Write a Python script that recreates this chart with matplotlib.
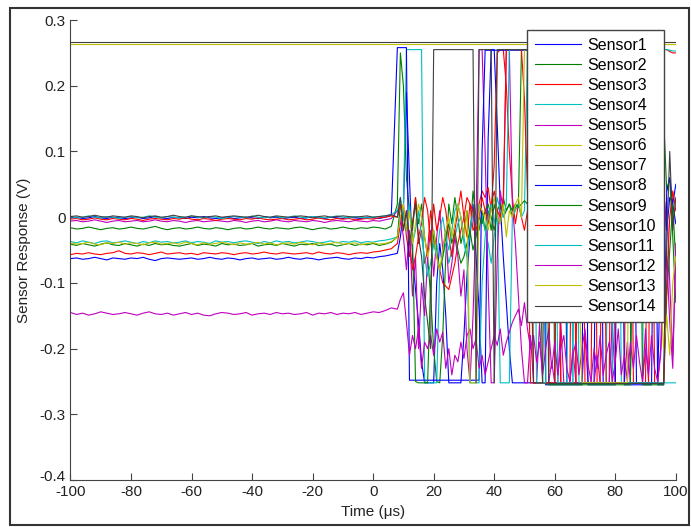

# importing the libraries
import numpy as np
import matplotlib.pyplot as plt
import matplotlib.transforms as mtransforms
from matplotlib.patches import Rectangle


# time axis (us): coarse before the trigger, 1 us after it
t_pre = np.arange(-100, 8, 2)
t_post = np.arange(8, 101)
t_ends = [-100, 100]

labels = ['Sensor%d' % i for i in range(1, 15)]

# sensor readings in mV
s1_pre = [-63, -62, -64, -63, -61, -63, -65, -62, -63,
          -64, -62, -63, -61, -64, -66, -63, -62, -63,
          -64, -63, -62, -64, -63, -61, -63, -64, -62,
          -63, -65, -63, -62, -64, -63, -62, -64, -63,
          -61, -63, -64, -62, -63, -65, -63, -62, -61,
          -63, -64, -62, -63, -61, -62, -60, -59, -57]
s1_post = [-55, -30, 10, 190, 60, -60, -110, -160, -220, -252,
           -252, -252, -252, -100, -40, -80, -150, -252, -252, -252,
           -252, -252, -180, -90, -30, 20, -60, -140, -252, -252,
           120, 255, 255, 140, 20, -60, -130, -200, -252, -252,
           -252, -252, -252, -252, -252, -252, -252, -252, -252, -252,
           -252, -252, -252, 255, 255, 255, -252, -252, -252, -252,
           -252, -252, -252, -252, -252, -252, 255, 255, -252, -252,
           -252, -252, -252, -252, -252, -252, -252, -252, 255, -252,
           -252, -252, -252, -252, -252, -252, -252, -60, 40, -20,
           30, 20, -10]

s2_pre = [-16, -18, -17, -15, -17, -19, -17, -16, -18,
          -17, -15, -17, -18, -16, -14, -17, -19, -17,
          -16, -18, -17, -15, -17, -18, -16, -17, -19,
          -17, -16, -18, -17, -15, -17, -18, -16, -17,
          -18, -16, -15, -17, -19, -17, -16, -18, -17,
          -15, -17, -18, -16, -17, -15, -16, -18, -14]
s2_post = [20, 250, 200, 60, 10, -20, 30, -10, 20, -30,
           -60, -120, -200, -250, -252, -180, -60, 20, -10, 30,
           0, -40, -20, 10, -30, 40, 0, -20, 10, -20,
           10, -20, 20, 0, -10, 30, 10, 20, 0, 15,
           20, 255, 255, 255, 255, 255, 255, 255, 255, 255,
           255, 255, -252, -252, -252, -252, -252, -252, -252, -252,
           -252, -252, -252, -252, -252, -252, -252, -252, -252, -252,
           -252, -252, -252, -252, -252, -252, -252, -252, 255, 255,
           255, 255, 255, 255, 255, 255, 255, 255, 150, 40,
           60, -30, -130]

s3_pre = [-57, -55, -56, -54, -56, -57, -55, -54, -51,
          -55, -56, -54, -55, -57, -55, -53, -56, -55,
          -54, -56, -55, -57, -54, -55, -56, -54, -55,
          -57, -55, -54, -56, -55, -53, -55, -56, -54,
          -55, -56, -55, -54, -56, -53, -55, -56, -54,
          -55, -57, -55, -54, -55, -53, -52, -50, -48]
s3_post = [-40, -10, 20, -30, -60, -10, 30, -40, -20, -70,
           -50, 10, -30, -60, -80, -100, -105, -110, -90, -70,
           -40, -20, 0, 30, 20, -20, -10, 20, 40, 30,
           45, 10, 80, 250, 255, 255, 200, 100, 30, -10,
           20, 0, -20, 10, -252, -252, -252, -252, -252, -252,
           -252, 80, 255, 255, -252, -252, -252, -252, 255, -252,
           -252, -252, -252, -252, -252, 255, -252, -252, -252, -252,
           -252, 255, -252, -252, -252, -252, 255, 255, -252, -252,
           -252, -252, -252, 255, 255, 255, 255, 255, 255, 255,
           252, 250, 250]

s4_pre = [-37, -39, -36, -38, -40, -37, -36, -39, -38,
          -36, -38, -40, -37, -39, -36, -38, -37, -39,
          -38, -36, -39, -37, -38, -40, -36, -38, -37,
          -39, -37, -36, -38, -40, -37, -39, -36, -38,
          -37, -39, -38, -36, -37, -39, -38, -36, -39,
          -37, -38, -36, -39, -37, -38, -36, -35, -33]
s4_post = [-30, 0, 10, 255, 255, 255, 255, 255, 255, -250,
           -252, -252, -252, -252, -80, -60, -40, -70, -50, -30,
           -10, 0, -30, -60, -20, 10, -10, 20, 0, -20,
           -40, -70, -30, 10, -252, -252, -252, -252, 0, 10,
           20, 0, 10, 255, 255, 255, 255, 255, 255, -252,
           -252, -252, -252, -252, -252, -252, -252, 255, -252, -252,
           -252, -252, -252, -252, -252, -252, -252, -252, -252, -252,
           255, -252, -252, -252, -252, -252, -252, -252, -252, -252,
           -252, -252, 255, 255, 255, 255, 255, 255, 255, 255,
           254, 253, 253]

s5_pre = [-6, -5, -7, -6, -4, -6, -8, -6, -5,
          -7, -6, -5, -7, -6, -4, -6, -7, -5,
          -6, -8, -6, -5, -7, -6, -5, -6, -7,
          -5, -6, -8, -6, -5, -7, -6, -4, -6,
          -7, -5, -6, -7, -5, -6, -8, -6, -5,
          -6, -7, -5, -6, -7, -5, -6, -4, -2]
s5_post = [10, 0, -30, -80, -20, -120, -60, -200, -100, -150,
           -60, -20, -90, -30, 10, -50, -20, -100, -70, -30,
           -60, -120, -80, -200, -252, -150, 0, 255, 255, 100,
           -100, -252, -252, -60, 40, 10, 255, 255, 20, -40,
           -120, -200, -252, -252, -180, -252, -252, -160, -252, -252,
           -252, -220, -252, -252, -160, -252, -252, -252, -200, -252,
           -252, -252, -180, -252, -252, -252, -210, -252, -252, -252,
           -252, -160, -252, -252, -252, -252, -190, -252, -252, -252,
           -252, -252, -170, -252, -252, -252, -252, -200, -40, 30,
           -100, -210, -60]

# sensors 6 and 7 sit on the upper rail the whole time
s6 = [263, 263]
s7 = [267, 267]

s8_pre = [-1, 0, -2, -1, 1, -1, -2, 0, -1,
          -2, -1, 0, -2, -1, 1, -1, -2, 0,
          -1, -2, 0, -1, 1, -1, -2, -1, 0,
          -2, -1, 0, -1, -2, 1, -1, 0, -2,
          -1, 0, -2, -1, 1, -1, -2, 0, -1,
          -2, 0, -1, -2, 0, -1, -2, 0, 3]
s8_post = [258, 258, 258, 258, -248, -248, -248, -248, -248, -248,
           -248, -248, -248, -248, -248, -248, -248, -248, -248, -248,
           -248, -248, -248, -248, -248, -248, -248, -248, 100, 254,
           254, 254, 254, 254, 254, 254, 254, 254, 254, 254,
           254, 254, 254, 254, 254, 254, 254, 254, 254, -255,
           -255, -255, -255, -255, -255, -255, -255, -255, -255, -255,
           -255, -255, 254, -255, -255, -255, -255, -255, -255, -255,
           -255, -255, -255, 254, 254, -255, -255, -255, -255, -255,
           -255, -255, -255, -255, -255, 254, -255, -255, -255, 40,
           60, 20, 50]

s9_pre = [-41, -43, -40, -42, -44, -41, -39, -42, -43,
          -40, -42, -44, -41, -43, -40, -42, -41, -43,
          -44, -42, -40, -43, -41, -42, -44, -40, -42,
          -41, -43, -42, -40, -44, -42, -41, -43, -40,
          -42, -44, -41, -42, -40, -43, -42, -41, -44,
          -42, -40, -43, -41, -42, -40, -43, -41, -38]
s9_post = [-30, 20, 0, -20, 10, -30, -250, -252, -252, -252,
           -252, -100, -20, -50, -80, -60, -30, -10, -40, -20,
           -50, -70, -60, -40, -20, -50, -30, 0, -10, 10,
           20, 0, -20, 10, 20, 0, 10, 20, 10, 20,
           15, 20, 25, 20, 10, 15, 20, 10, -252, -252,
           -255, -255, -255, -255, -255, -255, -255, -255, -255, -255,
           -255, -255, -255, -255, -255, -255, -255, -255, -255, -255,
           -255, -255, -255, -255, -255, -255, -255, -255, 255, 255,
           255, -255, -255, -255, -255, -255, -255, -255, -255, -120,
           -50, 20, -70]

s10_pre = [-3, -2, -4, -3, -1, -3, -4, -2, -3,
           -4, -2, -3, -5, -3, -2, -3, -4, -2,
           -3, -1, -3, -4, -2, -3, -5, -3, -2,
           -3, -4, -2, -3, -1, -3, -4, -3, -2,
           -4, -3, -2, -4, -3, -1, -3, -4, -2,
           -3, -2, -4, -3, -2, -3, -1, 0, 2]
s10_post = [0, 20, -20, 10, -40, -80, -60, -30, -10, 30,
            10, -40, 20, -20, 0, 30, 10, -30, -60, -20,
            10, 40, 0, -30, 20, 10, -20, 0, 30, 10,
            -10, 20, 40, 10, 0, 30, 255, 255, 255, 255,
            255, 255, 180, 40, -30, -252, -252, -252, -252, -252,
            -252, -252, -252, 255, -252, -252, -252, -252, -252, -252,
            255, 255, -252, -252, -252, -252, -252, -252, 255, -252,
            -252, -252, -252, -252, -252, -252, -252, -252, -252, -252,
            -252, -252, -252, -252, 255, -252, -252, -252, -252, -100,
            0, 40, 10]

s11_pre = [1, -1, 0, 2, 0, -1, 1, 0, -2,
           0, 1, -1, 0, 2, 0, -1, 1, 0,
           -1, 0, 2, 0, -1, 1, 0, -2, 0,
           1, 0, -1, 2, 0, -1, 0, 1, -1,
           0, 2, 0, -1, 1, 0, -1, 0, 2,
           0, -1, 1, 0, -1, 0, 1, 2, 4]
s11_post = [10, 30, 0, -20, 20, -40, -20, 10, -30, -60,
            -90, -70, -40, -60, -20, 0, -30, -50, -20, 10,
            20, 0, -40, -60, -252, -252, -252, -252, -100, -30,
            0, 20, -10, 30, 10, 0, 20, 255, 255, 255,
            255, 255, 255, 255, 255, 255, -252, -252, -252, -252,
            255, 255, 255, -252, -252, -252, -252, -252, -252, 255,
            -252, -252, -252, -252, -252, -252, -252, -252, -252, -252,
            -252, -252, 255, 255, -252, -252, -252, -252, -252, -252,
            -252, -252, -252, -252, -252, -252, -252, -252, -252, -252,
            -252, -252, -252]

s12_pre = [-145, -148, -146, -149, -147, -144, -146, -148, -147,
           -145, -147, -149, -146, -144, -147, -148, -146, -149,
           -147, -145, -148, -146, -149, -150, -147, -145, -146,
           -148, -147, -145, -149, -147, -146, -148, -145, -147,
           -146, -148, -147, -145, -149, -146, -147, -145, -148,
           -146, -147, -145, -148, -146, -144, -145, -142, -138]
s12_post = [-140, -125, -115, -160, -210, -180, -200, -170, -230, -190,
            -200, -180, -210, -170, -190, -175, -230, -200, -240, -210,
            -220, -190, -215, -180, -170, -200, -185, -230, -210, -240,
            -220, -200, -180, -195, -170, -210, -190, -175, -160, -150,
            -140, -165, -130, -170, -200, -180, -220, -190, -240, -200,
            -170, -230, -190, -240, -200, -180, -230, -250, -210, -190,
            -240, -200, -170, -225, -250, -200, -230, -180, -240, -210,
            -190, -250, -220, -170, -240, -210, -250, -190, -230, -180,
            -220, -250, -200, -240, -180, -230, -250, -210, -120, -60,
            -160, -230, -40]

s13_pre = [-39, -41, -40, -38, -41, -42, -39, -40, -38,
           -41, -39, -40, -42, -39, -38, -41, -40, -39,
           -41, -38, -40, -42, -39, -41, -40, -38, -40,
           -42, -39, -41, -40, -38, -41, -39, -42, -40,
           -39, -41, -38, -40, -42, -39, -41, -40, -38,
           -41, -40, -39, -42, -40, -39, -41, -40, -37]
s13_post = [-30, 0, 20, -20, 10, -40, -10, 20, 0, -30,
            -60, -40, -20, -60, -80, -50, -20, 0, -30, -10,
            20, 0, -30, 10, -252, -252, -252, 20, 10, 0,
            -20, 10, 30, 0, -10, 20, -30, 10, 0, 20,
            30, 0, 255, 255, 255, 255, 255, 255, 255, 255,
            255, 255, 255, 255, 255, 255, -70, -110, -80, -100,
            -90, -252, -252, -252, -252, -252, -252, -252, -252, -252,
            -252, -252, -252, -252, -252, -252, -252, 255, 255, 255,
            255, 255, 255, 255, 255, 255, 255, -120, -200, -150,
            -210, -100, -60]

s14_pre = [1, 2, 0, 1, 3, 1, 0, 2, 1,
           0, 2, 1, -1, 1, 2, 0, 1, 3,
           1, 0, 2, 1, 0, 1, 2, 0, 1,
           2, 1, 0, 1, 3, 1, 0, 2, 1,
           0, 1, 2, 1, -1, 1, 2, 0, 1,
           2, 1, 0, 1, 2, 0, 1, 2, 4]
s14_post = [0, 30, -20, 10, -40, -10, 20, -30, -60, -120,
            -160, -200, 255, 255, 255, 255, 255, 255, 255, 255,
            255, 255, 255, 255, 255, 255, -252, 255, 255, 255,
            255, 255, -252, 255, 255, 255, 255, 255, 255, 255,
            255, 255, 255, 255, 255, -252, -252, -252, -252, 255,
            -253, -253, -253, -253, -253, -253, -253, -253, -253, -253,
            -253, -253, -253, -253, -253, -253, -253, -253, -253, -253,
            -253, -253, -253, -253, -253, -253, -253, -253, -253, -253,
            -253, -253, -253, -253, -253, -253, -253, -253, -253, -40,
            100, -20, 30]

pre = [s1_pre, s2_pre, s3_pre, s4_pre, s5_pre, None, None,
       s8_pre, s9_pre, s10_pre, s11_pre, s12_pre, s13_pre, s14_pre]
post = [s1_post, s2_post, s3_post, s4_post, s5_post, None, None,
        s8_post, s9_post, s10_post, s11_post, s12_post, s13_post, s14_post]
flat = {5: s6, 6: s7}

# old matlab line colour order
colors = [(0, 0, 1), (0, 0.5, 0), (1, 0, 0), (0, 0.75, 0.75),
          (0.75, 0, 0.75), (0.75, 0.75, 0), (0.25, 0.25, 0.25)] * 2

for p, q in zip(pre, post):
    if p is not None:
        assert len(p) == len(t_pre) and len(q) == len(t_post)

plt.rcParams['font.family'] = ['Liberation Sans', 'DejaVu Sans']
plt.rcParams['axes.unicode_minus'] = False

fig = plt.figure(figsize=(6.91, 5.27), dpi=100)
ax = fig.add_axes([0.102, 0.089, 0.876, 0.873])

# plotting every sensor
for i in range(14):
    if i in flat:
        tt = np.array(t_ends)
        vv = np.array(flat[i]) / 1000.0
    else:
        tt = np.concatenate([t_pre, t_post])
        vv = np.array(pre[i] + post[i]) / 1000.0
    ax.plot(tt, vv, color=colors[i], lw=0.8, label=labels[i])

ax.set_xlim(-100, 100)
ax.set_ylim(-0.4, 0.3)
ax.set_xticks(np.arange(-100, 101, 20))
ax.set_yticks(np.arange(-0.4, 0.31, 0.1))
ax.set_yticklabels(['-0.4', '-0.3', '-0.2', '-0.1', '0', '0.1', '0.2', '0.3'])
ax.spines['top'].set_visible(False)
ax.spines['right'].set_visible(False)
for s in ['left', 'bottom']:
    ax.spines[s].set_color('#444444')
ax.tick_params(direction='in', length=5, colors='#444444', labelcolor='#222222',
               labelsize=11)
ax.set_xlabel('Time (\u03bcs)', fontsize=11, color='#222222', labelpad=4)
ax.set_ylabel('Sensor Response (V)', fontsize=11, color='#222222', labelpad=6)

# lift the lowest y label so it sits on the axis like the original
lowest = ax.get_yticklabels()[0]
lowest.set_transform(lowest.get_transform() +
                     mtransforms.ScaledTranslation(0, 5 / 100.0, fig.dpi_scale_trans))

leg = ax.legend(loc='upper right', bbox_to_anchor=(0.981, 0.979), borderaxespad=0,
                fontsize=11.5, handlelength=2.9, handletextpad=0.4,
                labelspacing=0.32, fancybox=False, framealpha=1,
                edgecolor='#444444', borderpad=0.5)
leg.get_frame().set_linewidth(1.0)

# dark frame round the whole picture
fig.patches.append(Rectangle((0.014, 0.004), 0.983, 0.981, transform=fig.transFigure,
                             fill=False, edgecolor='#333333', lw=1.5))

fig.savefig('out.png', dpi=100)
